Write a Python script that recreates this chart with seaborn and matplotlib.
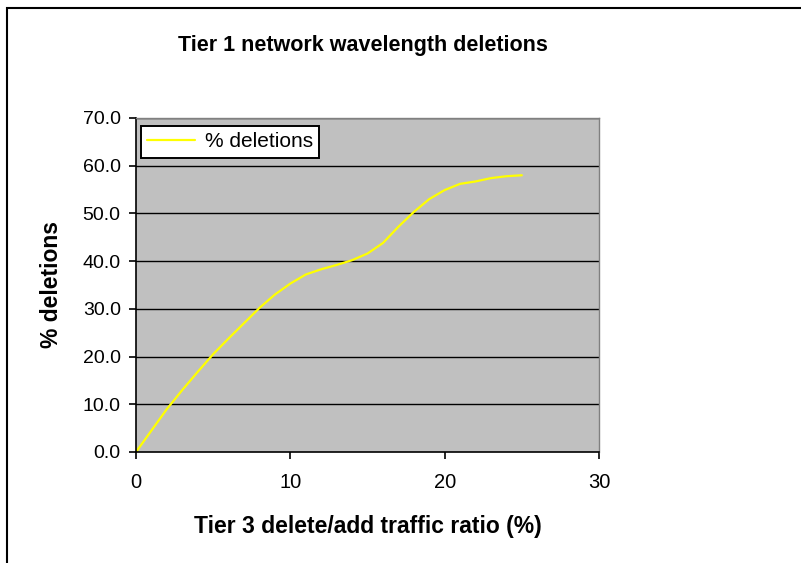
import matplotlib
matplotlib.use("Agg")
import matplotlib.pyplot as plt
import seaborn as sns
import pandas as pd
from matplotlib.patches import Rectangle

ratio = [0, 1, 2, 3, 4, 5, 6, 7, 8, 9, 10, 11, 12, 13, 14, 15, 16, 17, 18, 19, 20, 21, 22, 23, 24, 25]
deletions = [0.0, 4.5, 9.0, 13.0, 16.8, 20.5, 23.8, 27.0, 30.2, 33.0, 35.3, 37.2, 38.3, 39.2, 40.2,
             41.6, 43.8, 47.2, 50.3, 53.0, 54.9, 56.2, 56.7, 57.4, 57.8, 58.0]
series_name = "% deletions"
yticks = [0, 10, 20, 30, 40, 50, 60, 70]
xticks = [0, 10, 20, 30]

df = pd.DataFrame({"ratio": ratio, "value": deletions, "series": series_name})

sns.set_theme(style="white")
plt.rcParams["font.family"] = ["Liberation Sans", "DejaVu Sans"]
plt.rcParams["text.color"] = "black"
plt.rcParams["axes.labelcolor"] = "black"

W, H = 801, 563
fig = plt.figure(figsize=(W / 100, H / 100), dpi=100)
fig.patch.set_facecolor("white")

left, right, top, bottom = 136, 599, 118, 452
pw, ph = right - left, bottom - top
ax = fig.add_axes([left / W, 1 - bottom / H, pw / W, ph / H])
ax.set_facecolor("#C0C0C0")

sns.lineplot(data=df, x="ratio", y="value", hue="series", palette=["#FFFF00"],
             linewidth=1.6, ax=ax)

ax.set_xlim(0, 30)
ax.set_ylim(0, 70)
ax.set_xticks(xticks)
ax.set_yticks(yticks)
ax.set_xticklabels([str(t) for t in xticks], fontsize=14.5)
ax.set_yticklabels([f"{t:.1f}" for t in yticks], fontsize=14)
for y in yticks[1:]:
    ax.axhline(y, color="black", linewidth=1.0, zorder=0.5)

for s in ["top", "right"]:
    ax.spines[s].set_color("#808080")
    ax.spines[s].set_linewidth(1.0)
for s in ["left", "bottom"]:
    ax.spines[s].set_color("black")
    ax.spines[s].set_linewidth(1.2)
ax.tick_params(axis="both", which="major", direction="out", length=5, width=1.2,
               color="black", labelcolor="black", left=True, bottom=True)
ax.tick_params(axis="y", pad=6)
ax.tick_params(axis="x", pad=10)

ax.set_xlabel("Tier 3 delete/add traffic ratio (%)", fontsize=16.5, fontweight="bold", color="black")
ax.set_ylabel("% deletions", fontsize=16.5, fontweight="bold", color="black")
ax.xaxis.label.set_va("center")
ax.xaxis.set_label_coords(0.5, (bottom - 527) / ph)
ax.yaxis.label.set_va("center")
ax.yaxis.label.set_ha("center")
ax.yaxis.set_label_coords((52 - left) / pw, (bottom - 285) / ph)

leg = ax.legend(loc="upper left", bbox_to_anchor=(5 / pw, (bottom - 126) / ph), fontsize=15,
                frameon=True, fancybox=False, edgecolor="black", facecolor="white",
                framealpha=1, borderpad=0.3, borderaxespad=0, handlelength=2.3,
                handletextpad=0.45)
leg.get_frame().set_linewidth(1.4)
for t in leg.get_texts():
    t.set_color("black")

fig.text(363 / W, 1 - 45 / H, "Tier 1 network wavelength deletions", ha="center", va="center",
         fontsize=15.5, fontweight="bold", color="black")

fig.patches.append(Rectangle((7 / W, -0.1), 1.2, 1 - 8 / H + 0.1, transform=fig.transFigure,
                             fill=False, edgecolor="black", linewidth=1.5))

fig.savefig("out.png", dpi=100, facecolor="white")
